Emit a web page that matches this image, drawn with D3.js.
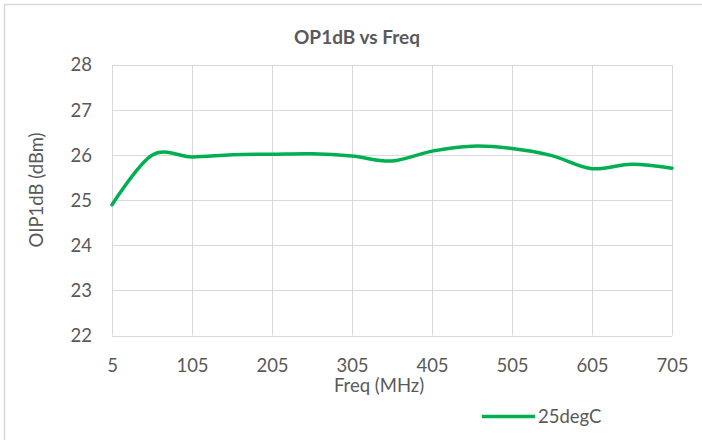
<!DOCTYPE html>
<html>
<head>
<meta charset="utf-8">
<script src="https://cdn.jsdelivr.net/npm/d3@7"></script>
<style>
  body { margin: 0; background: #fff; }
  svg text { font-family: Lato, "Noto Sans", sans-serif; fill: #595959; }
</style>
</head>
<body>
<script>
// Data
const freqs = [5, 55, 105, 155, 205, 255, 305, 355, 405, 455, 505, 555, 605, 655, 705];
const op1db = [24.9, 26.0, 25.96, 26.01, 26.02, 26.03, 25.98, 25.87, 26.09, 26.2, 26.15, 25.99, 25.7, 25.8, 25.71];
const xTicks = [5, 105, 205, 305, 405, 505, 605, 705];
const yTicks = [22, 23, 24, 25, 26, 27, 28];
const seriesName = "25degC";

const W = 702, H = 440;
const margin = { top: 65, right: 30, bottom: 105, left: 112 },
      width = 672 - margin.left,
      height = 335.5 - margin.top;

const svg = d3.select("body")
  .append("svg")
    .attr("width", W)
    .attr("height", H);

// Chart border (right/bottom edges run off the picture)
svg.append("rect")
  .attr("x", 4.5).attr("y", 4.5)
  .attr("width", W + 10).attr("height", H + 10)
  .attr("fill", "none")
  .attr("stroke", "#d9d9d9")
  .attr("stroke-width", 1.5);

const g = svg.append("g")
  .attr("transform", `translate(${margin.left},${margin.top})`);

// Scales
const x = d3.scaleLinear().domain([5, 705]).range([0, width]);
const y = d3.scaleLinear().domain([22, 28]).range([height, 0]);

// Gridlines
g.append("g")
  .selectAll("line")
  .data(yTicks)
  .join("line")
    .attr("x1", 0).attr("x2", width)
    .attr("y1", d => Math.round(y(d)) + 0.5)
    .attr("y2", d => Math.round(y(d)) + 0.5)
    .attr("stroke", "#d9d9d9");

g.append("g")
  .selectAll("line")
  .data(xTicks)
  .join("line")
    .attr("x1", d => Math.round(x(d)) + 0.5)
    .attr("x2", d => Math.round(x(d)) + 0.5)
    .attr("y1", 0).attr("y2", height)
    .attr("stroke", "#d9d9d9");

// Axes (labels only)
const xAxis = g.append("g")
  .attr("transform", `translate(0,${height})`)
  .call(d3.axisBottom(x).tickValues(xTicks).tickSize(0).tickPadding(23).tickFormat(d3.format("d")));
xAxis.select(".domain").remove();
xAxis.selectAll("text").attr("font-size", 18.5).attr("font-family", null);

const yAxis = g.append("g")
  .call(d3.axisLeft(y).tickValues(yTicks).tickSize(0).tickPadding(20).tickFormat(d3.format("d")));
yAxis.select(".domain").remove();
yAxis.selectAll("text").attr("font-size", 18.5).attr("font-family", null);

// Line
const line = d3.line()
  .x((d, i) => x(freqs[i]))
  .y(d => y(d))
  .curve(d3.curveCatmullRom.alpha(0));

g.append("path")
  .datum(op1db)
  .attr("fill", "none")
  .attr("stroke", "#00b050")
  .attr("stroke-width", 3.5)
  .attr("stroke-linecap", "round")
  .attr("d", line);

// Title
svg.append("text")
  .attr("x", 357).attr("y", 44)
  .attr("text-anchor", "middle")
  .attr("font-size", 19)
  .attr("font-weight", "bold")
  .text("OP1dB vs Freq");

// Axis titles
svg.append("text")
  .attr("x", 379).attr("y", 392)
  .attr("text-anchor", "middle")
  .attr("font-size", 18.5)
  .text("Freq (MHz)");

svg.append("text")
  .attr("transform", "translate(43,190) rotate(-90)")
  .attr("text-anchor", "middle")
  .attr("font-size", 18.5)
  .text("OIP1dB (dBm)");

// Legend
svg.append("line")
  .attr("x1", 482).attr("x2", 535)
  .attr("y1", 416.5).attr("y2", 416.5)
  .attr("stroke", "#00b050")
  .attr("stroke-width", 3.5);

svg.append("text")
  .attr("x", 538).attr("y", 423)
  .attr("font-size", 18.5)
  .text(seriesName);
</script>
</body>
</html>
